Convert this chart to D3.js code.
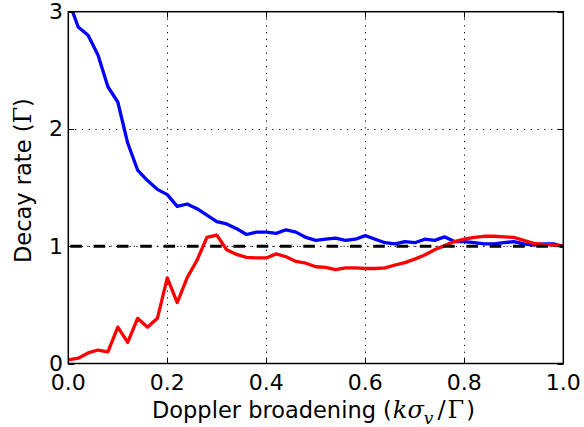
<!DOCTYPE html>
<html>
<head>
<meta charset="utf-8">
<script src="https://cdn.jsdelivr.net/npm/d3@7"></script>
<style>
  body { margin: 0; background: #fff; }
  svg { display: block; }
  text { font-family: "DejaVu Sans", sans-serif; fill: #000; }
</style>
</head>
<body>
<svg id="chart" width="584" height="427"></svg>
<script>
// broadening values (k sigma_v / Gamma)
var xs = [0.00, 0.02, 0.04, 0.06, 0.08, 0.10, 0.12, 0.14, 0.16, 0.18,
          0.20, 0.22, 0.24, 0.26, 0.28, 0.30, 0.32, 0.34, 0.36, 0.38,
          0.40, 0.42, 0.44, 0.46, 0.48, 0.50, 0.52, 0.54, 0.56, 0.58,
          0.60, 0.62, 0.64, 0.66, 0.68, 0.70, 0.72, 0.74, 0.76, 0.78,
          0.80, 0.82, 0.84, 0.86, 0.88, 0.90, 0.92, 0.94, 0.96, 0.98, 1.00];

var blueRate = [3.10, 2.87, 2.80, 2.63, 2.36, 2.23, 1.88, 1.65, 1.56, 1.485,
                1.44, 1.34, 1.36, 1.32, 1.265, 1.21, 1.19, 1.15, 1.10, 1.12,
                1.12, 1.11, 1.14, 1.12, 1.075, 1.05, 1.06, 1.07, 1.05, 1.06,
                1.09, 1.06, 1.03, 1.02, 1.04, 1.03, 1.06, 1.05, 1.08, 1.04,
                1.04, 1.03, 1.02, 1.02, 1.03, 1.04, 1.02, 1.01, 1.02, 1.02, 1.00];

var redRate = [0.03, 0.045, 0.09, 0.115, 0.10, 0.31, 0.18, 0.385, 0.31, 0.385,
               0.73, 0.52, 0.73, 0.88, 1.075, 1.095, 0.97, 0.93, 0.905, 0.90,
               0.90, 0.935, 0.91, 0.87, 0.855, 0.825, 0.82, 0.80, 0.815, 0.815,
               0.81, 0.81, 0.815, 0.84, 0.86, 0.89, 0.925, 0.97, 1.005, 1.04,
               1.06, 1.075, 1.085, 1.085, 1.08, 1.075, 1.05, 1.025, 1.015, 1.01, 1.00];

var refRate = 1;
var xTicks = [0, 0.2, 0.4, 0.6, 0.8, 1.0];
var yTicks = [0, 1, 2, 3];

var pLeft = 68.3, pRight = 563.3, pTop = 11.7, pBottom = 363.5;

var x = d3.scaleLinear().domain([0, 1]).range([pLeft, pRight]);
var y = d3.scaleLinear().domain([0, 3]).range([pBottom, pTop]);

var svg = d3.select('#chart');

svg.append('defs').append('clipPath').attr('id', 'plot-clip')
    .append('rect')
    .attr('x', pLeft).attr('y', pTop)
    .attr('width', pRight - pLeft).attr('height', pBottom - pTop);

// dotted grid
var grid = svg.append('g').attr('class', 'grid');
grid.selectAll('.vgrid')
    .data(xTicks.slice(1, -1))
    .enter().append('line')
    .attr('class', 'vgrid')
    .attr('x1', function (d) { return Math.round(x(d)) + 0.5; })
    .attr('x2', function (d) { return Math.round(x(d)) + 0.5; })
    .attr('y1', pTop).attr('y2', pBottom)
    .style('stroke', '#000').style('stroke-width', 1)
    .style('stroke-dasharray', '1.2,5.6');
grid.selectAll('.hgrid')
    .data(yTicks.slice(1, -1))
    .enter().append('line')
    .attr('class', 'hgrid')
    .attr('y1', function (d) { return Math.round(y(d)) + 0.5; })
    .attr('y2', function (d) { return Math.round(y(d)) + 0.5; })
    .attr('x1', pLeft).attr('x2', pRight)
    .style('stroke', '#000').style('stroke-width', 1)
    .style('stroke-dasharray', '1.2,5.6');

var line = d3.line()
    .x(function (d, i) { return x(xs[i]); })
    .y(function (d) { return y(d); });

var plot = svg.append('g').attr('clip-path', 'url(#plot-clip)');

plot.append('path')
    .datum(blueRate)
    .attr('d', line)
    .style('fill', 'none').style('stroke', '#0000ff')
    .style('stroke-width', 3.3).style('stroke-linejoin', 'round');

plot.append('path')
    .datum(redRate)
    .attr('d', line)
    .style('fill', 'none').style('stroke', '#ff0000')
    .style('stroke-width', 3.3).style('stroke-linejoin', 'round');

// dash-dot reference line at 1
plot.append('line')
    .attr('x1', x(0) + 2).attr('x2', x(1))
    .attr('y1', y(refRate)).attr('y2', y(refRate))
    .style('stroke', '#000').style('stroke-width', 3.2)
    .style('stroke-dasharray', '11.6,11.7');
plot.append('line')
    .attr('x1', x(0) + 2 + 11.6 + 5.3).attr('x2', x(1))
    .attr('y1', y(refRate)).attr('y2', y(refRate))
    .style('stroke', '#000').style('stroke-width', 1.2)
    .style('stroke-dasharray', '1.2,22.1');

// ticks, inside on all four sides
var tickLen = 6;
var ticks = svg.append('g').attr('class', 'ticks')
    .style('stroke', '#000').style('stroke-width', 1);
xTicks.forEach(function (t) {
    var px = Math.round(x(t)) + 0.5;
    ticks.append('line').attr('x1', px).attr('x2', px).attr('y1', pBottom).attr('y2', pBottom - tickLen);
    ticks.append('line').attr('x1', px).attr('x2', px).attr('y1', pTop).attr('y2', pTop + tickLen);
});
yTicks.forEach(function (t) {
    var py = Math.round(y(t)) + 0.5;
    ticks.append('line').attr('y1', py).attr('y2', py).attr('x1', pLeft).attr('x2', pLeft + tickLen);
    ticks.append('line').attr('y1', py).attr('y2', py).attr('x1', pRight).attr('x2', pRight - tickLen);
});

// frame
svg.append('rect')
    .attr('x', pLeft).attr('y', pTop)
    .attr('width', pRight - pLeft).attr('height', pBottom - pTop)
    .style('fill', 'none').style('stroke', '#000').style('stroke-width', 1.5);

// tick labels
svg.append('g').selectAll('text')
    .data(xTicks)
    .enter().append('text')
    .attr('x', function (d) { return x(d); })
    .attr('y', 390)
    .attr('text-anchor', 'middle')
    .style('font-size', '22px')
    .text(function (d) { return d.toFixed(1); });

svg.append('g').selectAll('text')
    .data(yTicks)
    .enter().append('text')
    .attr('x', 63)
    .attr('y', function (d) { return y(d) + 7.5; })
    .attr('text-anchor', 'end')
    .style('font-size', '22px')
    .text(function (d) { return d; });

// axis labels
var serif = '"DejaVu Serif", serif';
var xl = svg.append('text')
    .attr('x', 152).attr('y', 418)
    .style('font-size', '22.5px');
xl.append('tspan').text('Doppler broadening (');
xl.append('tspan').attr('dx', 1).style('font-family', serif).style('font-style', 'italic').style('font-size', '24px').text('k\u03C3');
xl.append('tspan').attr('dy', 6).style('font-family', serif).style('font-style', 'italic').style('font-size', '17px').text('v');
xl.append('tspan').attr('dy', -6).attr('dx', 4).style('font-family', serif).style('font-size', '24px').text('/');
xl.append('tspan').attr('dx', 2).style('font-family', serif).style('font-size', '24px').text('\u0393');
xl.append('tspan').attr('dx', 2).text(')');

var yl = svg.append('text')
    .attr('transform', 'translate(31,263) rotate(-90)')
    .attr('text-anchor', 'start')
    .style('font-size', '22.5px');
yl.append('tspan').text('Decay rate (');
yl.append('tspan').style('font-family', serif).style('font-size', '24px').text('\u0393');
yl.append('tspan').text(')');
</script>
</body>
</html>
